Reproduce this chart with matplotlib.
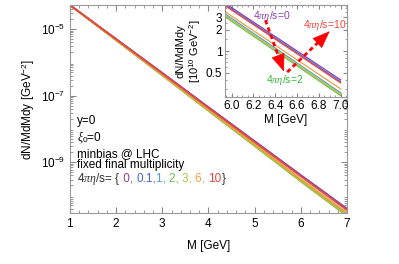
import numpy as np
import matplotlib
matplotlib.use("Agg")
import matplotlib.pyplot as plt
from matplotlib.ticker import LogLocator, NullFormatter, MultipleLocator, FixedLocator

plt.rcParams['font.family'] = ['Liberation Sans', 'DejaVu Sans']
plt.rcParams['mathtext.fontset'] = 'custom'
plt.rcParams['mathtext.it'] = 'Liberation Serif:italic'
plt.rcParams['mathtext.rm'] = 'Liberation Sans'

# dilepton mass [GeV]
mass = [1, 2, 3, 4, 5, 6, 7]

# dN/MdMdy [GeV^-2] for each 4 pi eta/s
eta_labels = ["0", "0.1", "1", "2", "3", "6", "10"]
spec_0 = [5.25e-5, 5.01e-6, 4.79e-7, 4.47e-8, 4.27e-9, 4.07e-10, 3.98e-11]
spec_01 = [5.25e-5, 4.96e-6, 4.70e-7, 4.34e-8, 4.10e-9, 3.88e-10, 3.76e-11]
spec_1 = [5.25e-5, 4.68e-6, 4.17e-7, 3.63e-8, 3.24e-9, 2.88e-10, 2.63e-11]
spec_2 = [5.25e-5, 4.60e-6, 4.04e-7, 3.47e-8, 3.05e-9, 2.62e-10, 2.40e-11]
spec_3 = [5.25e-5, 4.64e-6, 4.10e-7, 3.55e-8, 3.15e-9, 2.74e-10, 2.51e-11]
spec_6 = [5.25e-5, 4.77e-6, 4.35e-7, 3.87e-8, 3.53e-9, 3.10e-10, 2.98e-11]
spec_10 = [5.25e-5, 4.93e-6, 4.64e-7, 4.26e-8, 4.00e-9, 3.76e-10, 3.61e-11]

spectra = [spec_0, spec_01, spec_1, spec_2, spec_3, spec_6, spec_10]
colors = ["#8a3fa6", "#4f63d2", "#4aa3d8", "#6cbf4a", "#bcbc3c", "#f0a040", "#e8453c"]

FS = 8.5

fig = plt.figure(figsize=(3.99, 2.64), dpi=100)
ax = fig.add_axes([0.175, 0.193, 0.695, 0.788])

for sp, c in zip(spectra, colors):
    ax.plot(mass, sp, color=c, lw=1.3)

ax.set_yscale("log")
ax.set_xlim(1, 7)
ax.set_ylim(10**-10.53, 10**-4.28)
ax.yaxis.set_major_locator(FixedLocator([1e-5, 1e-7, 1e-9]))
ax.yaxis.set_minor_locator(LogLocator(base=10, subs=np.arange(2, 10), numticks=20))
ax.yaxis.set_minor_formatter(NullFormatter())
ax.xaxis.set_major_locator(MultipleLocator(1))
ax.xaxis.set_minor_locator(MultipleLocator(0.2))
ax.tick_params(which="both", direction="in", top=True, right=True, labelsize=FS, color="#888888")
ax.tick_params(which="major", length=4)
ax.tick_params(which="minor", length=2)
for s in ax.spines.values():
    s.set_color("#999999")
ax.set_xlabel("M [GeV]", fontsize=FS, labelpad=7)
ax.set_ylabel("dN/MdMdy [GeV$^{-2}$]", fontsize=FS, labelpad=3)

ax.text(0.025, 0.43, "y=0", transform=ax.transAxes, fontsize=FS)
ax.text(0.025, 0.35, r"$\xi_0$=0", transform=ax.transAxes, fontsize=FS)
ax.text(0.025, 0.27, "minbias @ LHC", transform=ax.transAxes, fontsize=FS)
ax.text(0.025, 0.215, "fixed final multiplicity", transform=ax.transAxes, fontsize=FS)

# coloured list of viscosities
pieces = [("4$\\pi\\eta$/s= {", "#333333")]
for i, (lab, c) in enumerate(zip(eta_labels, colors)):
    sep = ", " if i < len(eta_labels) - 1 else ""
    if lab == "0.1":
        sep = ","
    pre = " " if i == 0 else ""
    pieces.append((pre + lab + sep, c))
pieces.append(("}", "#333333"))
y_line = 0.15
prev = ax.text(0.025, y_line, pieces[0][0], transform=ax.transAxes, fontsize=FS,
               color=pieces[0][1], va="baseline")
for txt, c in pieces[1:]:
    prev = ax.annotate(txt, xy=(1, y_line), xycoords=(prev, ax.transAxes),
                       fontsize=FS, color=c, va="baseline")

# inset
ins = fig.add_axes([0.564, 0.633, 0.306, 0.348])
spec_scaled = [[v * 1e10 for v in sp] for sp in spectra]
for sp, c in zip(spec_scaled, colors):
    ins.plot(mass, sp, color=c, lw=0.9)
ins.set_yscale("log")
ins.set_xlim(5.94, 7.06)
ins.set_ylim(0.23, 4.42)
ins.yaxis.set_major_locator(FixedLocator([0.5, 1, 2, 3]))
ins.set_yticklabels(["0.5", "1", "2", "3"])
ins.yaxis.set_minor_locator(FixedLocator([0.3, 0.4, 0.6, 0.7, 0.8, 0.9, 1.5, 2.5, 3.5, 4]))
ins.yaxis.set_minor_formatter(NullFormatter())
ins.xaxis.set_major_locator(FixedLocator([6.0, 6.2, 6.4, 6.6, 6.8, 7.0]))
ins.set_xticklabels(["6.0", "6.2", "6.4", "6.6", "6.8", "7.0"])
ins.xaxis.set_minor_locator(MultipleLocator(0.05))
ins.tick_params(which="both", direction="in", top=True, right=True, labelsize=FS,
                color="#888888", pad=2)
ins.tick_params(which="major", length=3)
ins.tick_params(which="minor", length=1.5)
for s in ins.spines.values():
    s.set_color("#999999")
ins.set_xlabel("M [GeV]", fontsize=FS, labelpad=2)
ins.set_ylabel("dN/MdMdy\n[10$^{10}$ GeV$^{-2}$]", fontsize=8, labelpad=2)

ins.text(6.37, 3.1, "4$\\pi\\eta$/s=0", color=colors[0], fontsize=7.5, ha="center", va="center")
ins.text(6.85, 2.3, "4$\\pi\\eta$/s=10", color=colors[6], fontsize=7.5, ha="center", va="center")
ins.text(6.49, 0.39, "4$\\pi\\eta$/s=2", color="#3cb43c", fontsize=7.5, ha="center", va="center")


def dashed_arrow(a, start, tip):
    # dashed shaft plus a solid head, straight in the log-y display
    lx0, ly0 = start[0], np.log10(start[1])
    lx1, ly1 = tip[0], np.log10(tip[1])
    f = 0.75
    mid = (lx0 + f * (lx1 - lx0), 10 ** (ly0 + f * (ly1 - ly0)))
    a.plot([start[0], mid[0]], [start[1], mid[1]], color="red", lw=2, ls=(0, (1.6, 1.2)))
    a.annotate("", xy=tip, xytext=mid,
               arrowprops=dict(arrowstyle="-|>,head_length=1.15,head_width=0.45",
                               mutation_scale=10, color="red", lw=0.5,
                               shrinkA=0, shrinkB=0))


dashed_arrow(ins, (6.31, 2.72), (6.48, 0.52))
dashed_arrow(ins, (6.51, 0.51), (6.9, 1.9))

fig.savefig("out.png", dpi=100)
